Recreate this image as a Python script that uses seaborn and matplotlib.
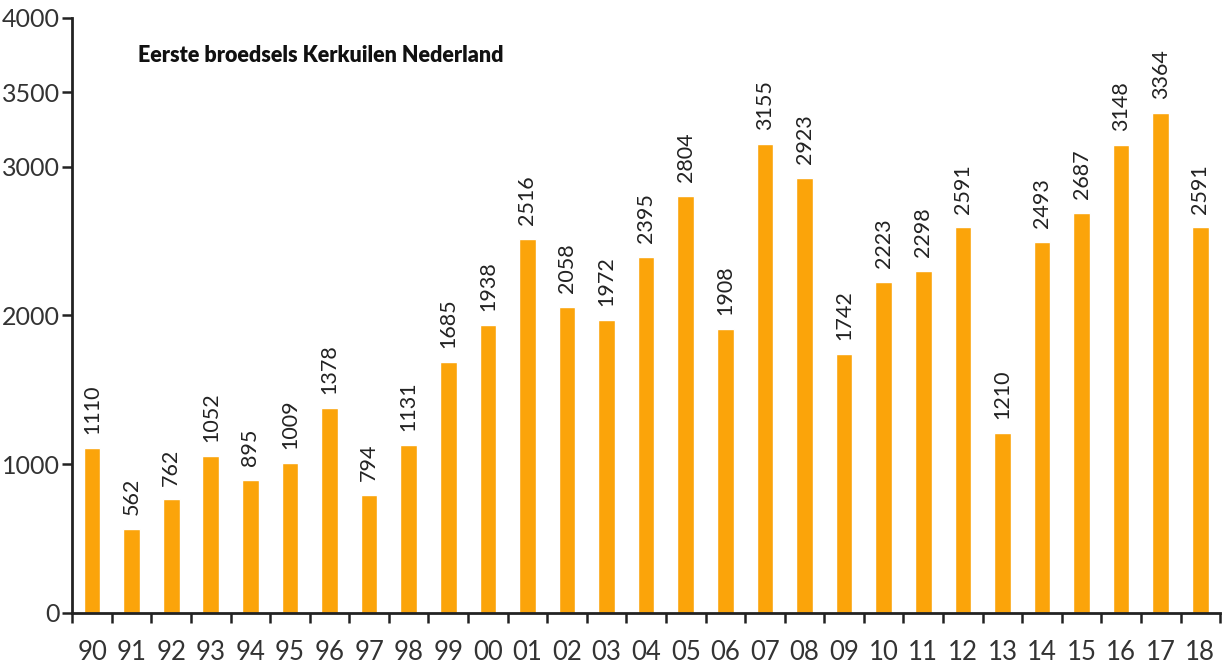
import matplotlib
matplotlib.use("Agg")
import matplotlib.pyplot as plt
import seaborn as sns
import numpy as np

# data
years = ['90', '91', '92', '93', '94', '95', '96', '97', '98', '99',
         '00', '01', '02', '03', '04', '05', '06', '07', '08', '09',
         '10', '11', '12', '13', '14', '15', '16', '17', '18']
broedsels = [1110, 562, 762, 1052, 895, 1009, 1378, 794, 1131, 1685,
             1938, 2516, 2058, 1972, 2395, 2804, 1908, 3155, 2923, 1742,
             2223, 2298, 2591, 1210, 2493, 2687, 3148, 3364, 2591]
yticks = [0, 1000, 2000, 3000, 3500, 4000]
title = 'Eerste broedsels Kerkuilen Nederland'

sns.set_style("white")
plt.rcParams['font.family'] = ['Lato', 'DejaVu Sans']

fig = plt.figure(figsize=(12.25, 6.66), dpi=100)
ax = fig.add_axes([0.059, 0.080, 0.937, 0.893])

sns.barplot(x=years, y=broedsels, order=years, color='#FBA40A',
            width=0.42, saturation=1, ax=ax)
ax.bar_label(ax.containers[0], rotation=90, padding=10, fontsize=15.5,
             color='#222222')

ax.set_xlim(-0.5, len(years) - 0.5)
ax.set_ylim(0, 4000)
ax.set_yticks(yticks)
ax.set_yticklabels([str(t) for t in yticks], fontsize=18, color='#333333')
ax.tick_params(axis='y', direction='out', length=7, width=1.8, color='#222222', pad=2, left=True)

# x labels under bars, tick marks between bars
ax.tick_params(axis='x', which='major', length=0, pad=20, labelsize=18.5, labelcolor='#333333')
ax.set_xticks(np.arange(len(years) + 1) - 0.5, minor=True)
ax.tick_params(axis='x', which='minor', direction='out', length=7, width=1.8, color='#222222', bottom=True)

for s in ['top', 'right']:
    ax.spines[s].set_visible(False)
for s in ['left', 'bottom']:
    ax.spines[s].set_color('#222222')
    ax.spines[s].set_linewidth(2)

ax.set_xlabel('')
ax.set_ylabel('')
ax.text(0.057, 0.937, title, transform=ax.transAxes, fontsize=15.5,
        fontweight='heavy', color='#111111', va='center', ha='left')

fig.savefig('out.png', dpi=100)
